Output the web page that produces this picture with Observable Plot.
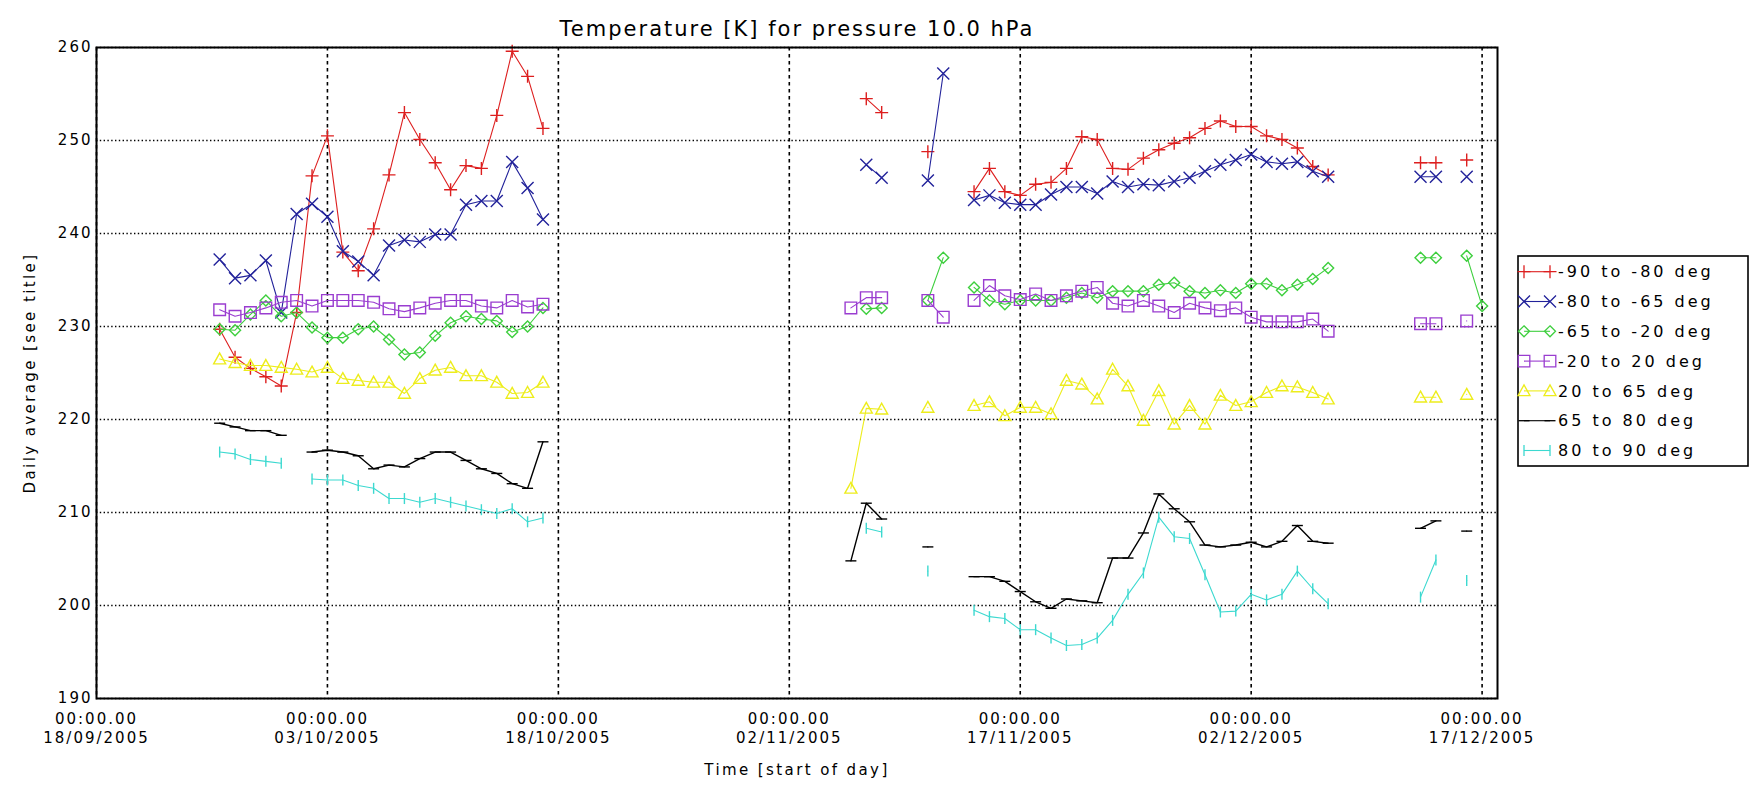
<!DOCTYPE html>
<html>
<head>
<meta charset="utf-8">
<script src="https://cdn.jsdelivr.net/npm/d3@7"></script>
<script src="https://cdn.jsdelivr.net/npm/@observablehq/plot@0.6"></script>
<style>
  body { margin: 0; background: #fff; }
  #wrap { position: relative; width: 1750px; height: 785px; background: #fff; font-family: "DejaVu Sans", sans-serif; }
</style>
</head>
<body>
<div id="wrap"></div>
<script>
// ---------- data (daily averages, K) ----------
const titleText = "Temperature [K] for pressure 10.0 hPa";
const xLabel = "Time [start of day]";
const yLabel = "Daily average [see title]";

const xTicks = ["2005-09-18","2005-10-03","2005-10-18","2005-11-02","2005-11-17","2005-12-02","2005-12-17"];
const xDomain = ["2005-09-18","2005-12-18"];
const yTicks = [190,200,210,220,230,240,250,260];
const yDomain = [190,260];

const dates = [
  "2005-09-26","2005-09-27","2005-09-28","2005-09-29","2005-09-30","2005-10-01","2005-10-02","2005-10-03",
  "2005-10-04","2005-10-05","2005-10-06","2005-10-07","2005-10-08","2005-10-09","2005-10-10","2005-10-11",
  "2005-10-12","2005-10-13","2005-10-14","2005-10-15","2005-10-16","2005-10-17",
  "2005-11-06","2005-11-07","2005-11-08","2005-11-11","2005-11-12",
  "2005-11-14","2005-11-15","2005-11-16","2005-11-17","2005-11-18","2005-11-19","2005-11-20","2005-11-21",
  "2005-11-22","2005-11-23","2005-11-24","2005-11-25","2005-11-26","2005-11-27","2005-11-28","2005-11-29",
  "2005-11-30","2005-12-01","2005-12-02","2005-12-03","2005-12-04","2005-12-05","2005-12-06","2005-12-07",
  "2005-12-13","2005-12-14","2005-12-16","2005-12-17"
];

const band90to80 = [229.7,226.7,225.5,224.6,223.6,231.5,246.2,250.5,238.0,236.0,240.5,246.3,253.0,250.1,247.6,244.7,247.3,247.0,252.7,259.6,256.9,251.3,
  null,254.5,253.0,248.8,null,
  244.5,247.0,244.5,244.1,245.3,245.5,247.0,250.4,250.1,247.0,246.9,248.1,249.0,249.7,250.3,251.3,252.1,251.5,251.5,250.5,250.1,249.2,247.2,246.3,
  247.6,247.6,247.9,null];
const band80to65 = [237.2,235.2,235.5,237.1,231.5,242.1,243.2,241.8,238.1,237.0,235.5,238.7,239.3,239.1,239.9,239.9,243.1,243.5,243.5,247.7,244.9,241.5,
  null,247.4,246.0,245.7,257.2,
  243.6,244.1,243.3,243.1,243.1,244.2,245.0,245.0,244.3,245.6,245.0,245.3,245.2,245.6,246.0,246.7,247.4,247.9,248.5,247.7,247.5,247.7,246.7,246.1,
  246.1,246.1,246.1,null];
const band65to20 = [229.7,229.6,231.3,232.8,231.1,231.5,229.9,228.8,228.8,229.7,230.0,228.6,227.0,227.2,229.0,230.4,231.1,230.8,230.6,229.4,230.0,232.0,
  null,231.9,232.0,232.8,237.4,
  234.2,232.8,232.4,232.8,232.8,232.8,233.1,233.6,233.1,233.8,233.8,233.8,234.5,234.7,233.8,233.6,233.9,233.6,234.6,234.6,233.9,234.5,235.1,236.3,
  237.4,237.4,237.6,232.2];
const band20to20 = [231.8,231.1,231.5,232.0,232.6,232.8,232.2,232.8,232.8,232.8,232.6,231.9,231.6,232.0,232.5,232.8,232.8,232.2,232.0,232.8,232.1,232.4,
  232.0,233.1,233.1,232.8,231.0,
  232.8,234.4,233.3,232.9,233.5,232.8,233.3,233.8,234.2,232.5,232.2,232.8,232.2,231.5,232.5,232.0,231.7,232.0,231.0,230.5,230.5,230.5,230.8,229.5,
  230.3,230.3,230.6,null];
const band20to65 = [226.5,226.1,225.8,225.8,225.6,225.4,225.1,225.6,224.4,224.2,224.0,224.0,222.8,224.4,225.3,225.6,224.7,224.7,224.0,222.8,222.9,224.0,
  212.6,221.2,221.1,221.3,null,
  221.5,221.9,220.4,221.3,221.3,220.6,224.2,223.8,222.2,225.4,223.6,219.9,223.1,219.5,221.5,219.5,222.6,221.5,221.9,222.9,223.6,223.5,222.9,222.2,
  222.4,222.4,222.7,null];
const band65to80 = [219.6,219.2,218.8,218.8,218.3,null,216.5,216.7,216.5,216.1,214.7,215.1,214.9,215.8,216.5,216.5,215.6,214.7,214.2,213.1,212.6,217.6,
  204.8,211.0,209.3,206.3,null,
  203.1,203.1,202.6,201.5,200.4,199.7,200.7,200.5,200.3,205.1,205.1,207.8,212.0,210.4,209.0,206.5,206.3,206.5,206.8,206.3,206.9,208.6,206.9,206.7,
  208.3,209.1,208.0,null];
const band80to90 = [216.5,216.3,215.7,215.5,215.3,null,213.6,213.5,213.5,212.9,212.6,211.5,211.5,211.1,211.5,211.1,210.7,210.3,209.9,210.4,209.0,209.4,
  null,208.3,207.9,203.7,null,
  199.5,198.8,198.6,197.4,197.4,196.5,195.7,195.8,196.5,198.4,201.2,203.5,209.5,207.4,207.2,203.3,199.3,199.4,201.2,200.6,201.2,203.7,201.8,200.2,
  200.9,204.9,202.7,null];

const seriesNames = ["-90 to -80 deg","-80 to -65 deg","-65 to -20 deg","-20 to 20 deg","20 to 65 deg","65 to 80 deg","80 to 90 deg"];
const seriesValues = [band90to80, band80to65, band65to20, band20to20, band20to65, band65to80, band80to90];
const seriesColors = ["#dd1f1f","#22229a","#3ecf3e","#9a3dd0","#eded1c","#000000","#3cd9d0"];

// ---------- symbols (IDL-like, stroked) ----------
const mk = f => ({ draw(c, size) { const r = Math.sqrt(size / Math.PI); f(c, r); } });
const symPlus = mk((c, r) => { c.moveTo(-r, 0); c.lineTo(r, 0); c.moveTo(0, -r); c.lineTo(0, r); });
const symTimes = mk((c, r) => { c.moveTo(-r, -r); c.lineTo(r, r); c.moveTo(-r, r); c.lineTo(r, -r); });
const symDiamond = mk((c, r) => { c.moveTo(0, -r); c.lineTo(r, 0); c.lineTo(0, r); c.lineTo(-r, 0); c.closePath(); });
const symSquare = mk((c, r) => { c.moveTo(-r, -r); c.lineTo(r, -r); c.lineTo(r, r); c.lineTo(-r, r); c.closePath(); });
const symTriangle = mk((c, r) => { c.moveTo(0, -r); c.lineTo(r, 0.8 * r); c.lineTo(-r, 0.8 * r); c.closePath(); });
const symHDash = mk((c, r) => { c.moveTo(-r, 0); c.lineTo(r, 0); });
const symVBar = mk((c, r) => { c.moveTo(0, -r); c.lineTo(0, r); });
const seriesSymbols = [symPlus, symTimes, symDiamond, symSquare, symTriangle, symHDash, symVBar];
const seriesR = [6.5, 6, 5.5, 5.8, 6, 5.5, 5.5];

// ---------- build rows, breaking lines across missing days ----------
const parse = s => new Date(s + "T00:00:00Z");
const dateObjs = dates.map(parse);
const DAY = 864e5;
const series = seriesNames.map((name, k) => {
  const rows = [];
  dateObjs.forEach((d, i) => {
    if (i > 0 && (d - dateObjs[i - 1]) > DAY * 1.5) rows.push({date: d, value: NaN, name});
    const v = seriesValues[k][i];
    rows.push({date: d, value: v == null ? NaN : v, name});
  });
  return {name, rows, color: seriesColors[k], symbol: seriesSymbols[k], r: seriesR[k]};
});

const fmtDay = d3.utcFormat("%d/%m/%Y");
const xTickDates = xTicks.map(parse);

const marks = [
  Plot.gridX(xTickDates, {stroke: "#000", strokeOpacity: 1, strokeWidth: 1.6, strokeDasharray: "3.5,3.5"}),
  Plot.gridY(yTicks, {stroke: "#000", strokeOpacity: 1, strokeWidth: 1.6, strokeDasharray: "1.4,2.4"})
];
for (const s of series) {
  marks.push(Plot.line(s.rows, {x: "date", y: "value", stroke: s.color, strokeWidth: s.name === "65 to 80 deg" ? 1.4 : 1.1}));
  marks.push(Plot.dot(s.rows.filter(d => !isNaN(d.value)), {
    x: "date", y: "value", symbol: s.symbol, r: s.r, stroke: s.color, fill: "none", strokeWidth: 1.4
  }));
}
marks.push(
  Plot.frame({stroke: "#000", strokeWidth: 2}),
  Plot.axisX(xTickDates, {
    tickSize: 0, tickPadding: 12, lineHeight: 1.25, fontSize: 15,
    tickFormat: d => "00:00.00\n" + fmtDay(d),
    label: xLabel, labelAnchor: "center", labelArrow: "none", labelOffset: 76
  }),
  Plot.axisY(yTicks, {
    tickSize: 0, tickPadding: 4, fontSize: 15,
    label: yLabel, labelAnchor: "center", labelArrow: "none", labelOffset: 72
  }),
  Plot.text([titleText], {frameAnchor: "top", dy: -26, fontSize: 21, ariaLabel: "title"})
);

const chart = Plot.plot({
  width: 1750, height: 785,
  marginLeft: 96, marginRight: 253, marginTop: 47, marginBottom: 87,
  x: {type: "utc", domain: xDomain.map(parse)},
  y: {domain: yDomain},
  style: {fontFamily: "DejaVu Sans, sans-serif", fontSize: "15px", letterSpacing: "2px", color: "#000", background: "#fff"},
  marks
});
const wrap = document.getElementById("wrap");
wrap.appendChild(chart);
d3.select(chart).selectAll('g[aria-label="title"] text').style("letter-spacing", "5.3px");
d3.select(chart).selectAll('g[aria-label="x-axis label"] text, g[aria-label="y-axis label"] text').style("letter-spacing", "2.4px");

// ---------- legend ----------
const lg = d3.create("svg")
  .attr("width", 233).attr("height", 213)
  .style("position", "absolute").style("left", "1516px").style("top", "254px")
  .style("font-family", "DejaVu Sans, sans-serif");
lg.append("rect").attr("x", 2).attr("y", 2).attr("width", 230).attr("height", 210)
  .attr("fill", "#fff").attr("stroke", "#000").attr("stroke-width", 1.6);
series.forEach((s, i) => {
  const g = lg.append("g").attr("transform", `translate(2,${17.7 + i * 29.8})`);
  g.append("line").attr("x1", 6).attr("x2", 32).attr("y1", 0).attr("y2", 0)
    .attr("stroke", s.color).attr("stroke-width", 1.1);
  for (const x of [6, 32]) {
    g.append("path").attr("transform", `translate(${x},0)`)
      .attr("d", d3.symbol(s.symbol, Math.PI * s.r * s.r)())
      .attr("fill", "none").attr("stroke", s.color).attr("stroke-width", 1.3);
  }
  g.append("text").attr("x", 40).attr("y", 0).attr("dy", "0.36em")
    .attr("font-size", 16).style("letter-spacing", "3px").attr("fill", "#000").text(s.name);
});
wrap.appendChild(lg.node());
</script>
</body>
</html>
